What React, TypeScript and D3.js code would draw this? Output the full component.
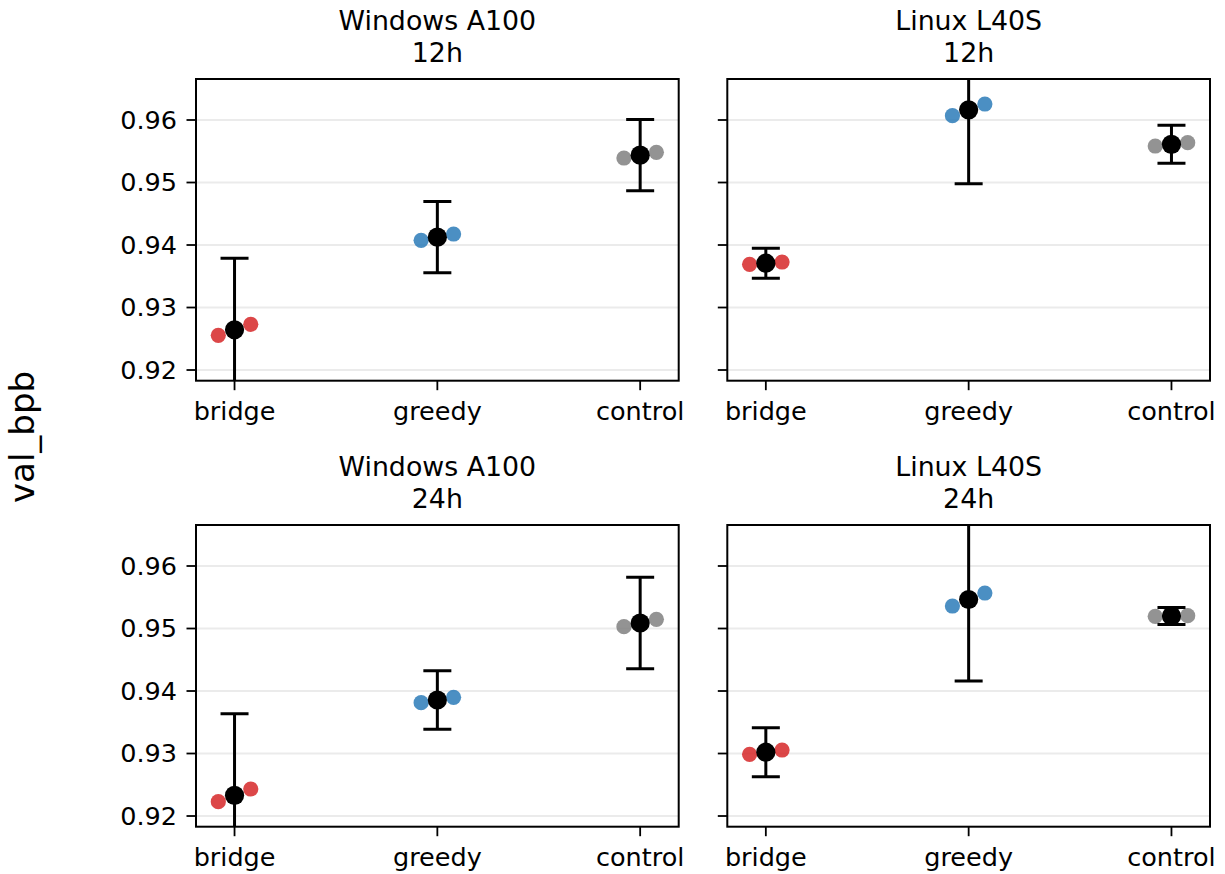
import React from "react";
import * as d3 from "d3";

const W = 1225;
const H = 874;

const categories = ["bridge", "greedy", "control"];
const panelTitles = [
  ["Windows A100", "12h"],
  ["Linux L40S", "12h"],
  ["Windows A100", "24h"],
  ["Linux L40S", "24h"],
];

// two runs per category, per panel
const runsWinA100_12h = [[0.92555, 0.92731], [0.94075, 0.94176], [0.95392, 0.95483]];
const runsL40S_12h = [[0.93691, 0.93728], [0.96069, 0.96256], [0.95584, 0.95637]];
const runsWinA100_24h = [[0.92229, 0.92432], [0.93813, 0.93899], [0.95029, 0.95147]];
const runsL40S_24h = [[0.92987, 0.93056], [0.9536, 0.95568], [0.95195, 0.95205]];

// confidence half-widths
const ciWinA100_12h = [0.01147, 0.00571, 0.00571];
const ciL40S_12h = [0.0024, 0.01184, 0.00304];
const ciWinA100_24h = [0.01307, 0.00467, 0.00731];
const ciL40S_24h = [0.00392, 0.01302, 0.00136];

const yTicks = [0.92, 0.93, 0.94, 0.95, 0.96];
const yLimits = [0.91829, 0.96656];
const jitter = [-0.08, 0.08];

const catColors = ["#d62728", "#2b7bb9", "#808080"];

const panelRuns = [runsWinA100_12h, runsL40S_12h, runsWinA100_24h, runsL40S_24h];
const panelCI = [ciWinA100_12h, ciL40S_12h, ciWinA100_24h, ciL40S_24h];

const colLeft = [196, 727.3];
const rowTop = [79, 525];
const PW = 482.7;
const PH = 301.7;
const FONT = "DejaVu Sans";

function Panel({ idx }: { idx: number }) {
  const col = idx % 2;
  const row = Math.floor(idx / 2);
  const left = colLeft[col];
  const top = rowTop[row];
  const x = d3.scaleLinear().domain([-0.19, 2.19]).range([0, PW]);
  const y = d3.scaleLinear().domain(yLimits).range([PH, 0]);
  const runs = panelRuns[idx];
  const ci = panelCI[idx];
  const clipId = `clip-${idx}`;
  const capHalf = 14;
  return (
    <g transform={`translate(${left},${top})`}>
      <defs>
        <clipPath id={clipId}>
          <rect x={0} y={0} width={PW} height={PH} />
        </clipPath>
      </defs>
      {yTicks.map((t) => (
        <line key={"g" + t} x1={0} x2={PW} y1={y(t)} y2={y(t)} stroke="#ebebeb" strokeWidth={1.8} />
      ))}
      <g clipPath={`url(#${clipId})`}>
        {runs.map((vals, ci_) =>
          vals.map((v, j) => (
            <circle
              key={`p${ci_}-${j}`}
              cx={x(ci_ + jitter[j])}
              cy={y(v)}
              r={7.6}
              fill={catColors[ci_]}
              fillOpacity={0.85}
            />
          ))
        )}
        {runs.map((vals, ci_) => {
          const m = d3.mean(vals) as number;
          const cx = x(ci_);
          const lo = y(m - ci[ci_]);
          const hi = y(m + ci[ci_]);
          return (
            <g key={`e${ci_}`} stroke="#000" strokeWidth={3}>
              <line x1={cx} x2={cx} y1={lo} y2={hi} />
              <line x1={cx - capHalf} x2={cx + capHalf} y1={lo} y2={lo} />
              <line x1={cx - capHalf} x2={cx + capHalf} y1={hi} y2={hi} />
            </g>
          );
        })}
        {runs.map((vals, ci_) => (
          <circle key={`m${ci_}`} cx={x(ci_)} cy={y(d3.mean(vals) as number)} r={9.6} fill="#000" />
        ))}
      </g>
      <rect x={0} y={0} width={PW} height={PH} fill="none" stroke="#000" strokeWidth={2} />
      {yTicks.map((t) => (
        <g key={"yt" + t}>
          <line x1={-9.5} x2={0} y1={y(t)} y2={y(t)} stroke="#000" strokeWidth={1.8} />
          {col === 0 && (
            <text
              x={-19}
              y={y(t)}
              dy="0.35em"
              textAnchor="end"
              fontFamily={FONT}
              fontSize={25.5}
              fill="#000"
            >
              {d3.format(".2f")(t)}
            </text>
          )}
        </g>
      ))}
      {categories.map((c, i) => (
        <g key={"xt" + c}>
          <line x1={x(i)} x2={x(i)} y1={PH} y2={PH + 9.5} stroke="#000" strokeWidth={1.8} />
          <text x={x(i)} y={PH + 39} textAnchor="middle" fontFamily={FONT} fontSize={25.5} fill="#000">
            {c}
          </text>
        </g>
      ))}
      <text x={PW / 2} y={-49} textAnchor="middle" fontFamily={FONT} fontSize={26.8} fill="#000">
        {panelTitles[idx][0]}
      </text>
      <text x={PW / 2} y={-17.3} textAnchor="middle" fontFamily={FONT} fontSize={26.8} fill="#000">
        {panelTitles[idx][1]}
      </text>
    </g>
  );
}

export default function App() {
  return (
    <svg
      width={W}
      height={H}
      viewBox={`0 0 ${W} ${H}`}
      style={{ position: "absolute", left: 0, top: 0, background: "#fff" }}
    >
      <rect x={0} y={0} width={W} height={H} fill="#fff" />
      {[0, 1, 2, 3].map((i) => (
        <Panel key={i} idx={i} />
      ))}
      <text
        transform={`translate(34.4,437) rotate(-90)`}
        textAnchor="middle"
        fontFamily={FONT}
        fontSize={34}
        fill="#000"
      >
        val_bpb
      </text>
    </svg>
  );
}
